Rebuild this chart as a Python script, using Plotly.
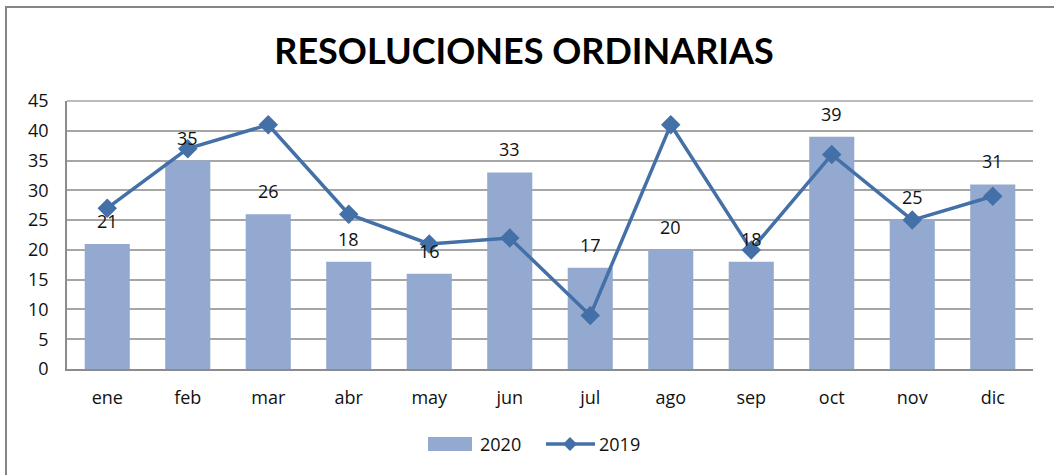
import plotly.graph_objects as go

months = ["ene", "feb", "mar", "abr", "may", "jun", "jul", "ago", "sep", "oct", "nov", "dic"]
v2020 = [21, 35, 26, 18, 16, 33, 17, 20, 18, 39, 25, 31]
v2019 = [27, 37, 41, 26, 21, 22, 9, 41, 20, 36, 25, 29]
y_ticks = [0, 5, 10, 15, 20, 25, 30, 35, 40, 45]

FONT = "Open Sans"
BAR = "#94A9D0"
LINE = "#4470A8"
TXT = "#111111"

fig = go.Figure()
fig.add_trace(go.Bar(x=months, y=v2020, name="2020", marker=dict(color=BAR, line=dict(width=0)),
                     width=0.56, showlegend=False))
fig.add_trace(go.Scatter(x=months, y=v2019, name="2019", mode="lines+markers",
                         line=dict(color=LINE, width=3.5),
                         marker=dict(symbol="diamond", size=15, color=LINE), showlegend=False))

for m, v in zip(months, v2020):
    fig.add_annotation(x=m, y=v, text=str(v), showarrow=False, yanchor="bottom", yshift=9,
                       font=dict(family=FONT, size=18, color=TXT))

W, H = 1054, 475
L, R, T, B = 67, 21, 101, 106
pw, ph = W - L - R, H - T - B
def px(x): return (x - L) / pw
def py(y): return (H - B - y) / ph

# chart border
fig.add_shape(type="rect", xref="paper", yref="paper",
              x0=px(6), x1=px(1070), y0=py(7), y1=py(490),
              line=dict(color="#858585", width=2), fillcolor="rgba(0,0,0,0)", layer="below")

# custom legend (Excel style)
ly = 444
fig.add_shape(type="rect", xref="paper", yref="paper", x0=px(428), x1=px(472), y0=py(451), y1=py(437),
              fillcolor=BAR, line=dict(width=0))
fig.add_annotation(xref="paper", yref="paper", x=px(478), y=py(ly), text="2020", showarrow=False,
                   xanchor="left", yanchor="middle", font=dict(family=FONT, size=18, color=TXT))
fig.add_shape(type="line", xref="paper", yref="paper", x0=px(546), x1=px(595), y0=py(ly), y1=py(ly),
              line=dict(color=LINE, width=3.5))
fig.add_shape(type="path", xref="paper", yref="paper",
              path=f"M {px(570)} {py(ly-7)} L {px(577)} {py(ly)} L {px(570)} {py(ly+7)} L {px(563)} {py(ly)} Z",
              fillcolor=LINE, line=dict(width=0))
fig.add_annotation(xref="paper", yref="paper", x=px(597), y=py(ly), text="2019", showarrow=False,
                   xanchor="left", yanchor="middle", font=dict(family=FONT, size=18, color=TXT))

fig.add_shape(type="line", xref="paper", yref="paper", x0=0, x1=1, y0=1, y1=1,
              line=dict(color="#a6a6a6", width=1.5))

fig.update_layout(
    width=W, height=H,
    margin=dict(l=L, r=R, t=T, b=B, autoexpand=False),
    paper_bgcolor="white", plot_bgcolor="white",
    title=dict(text="<b>RESOLUCIONES ORDINARIAS</b>", x=524 / W, xanchor="center", xref="container",
               y=1 - 51 / H, yanchor="middle", yref="container",
               font=dict(family="Lato", size=36, color="black")),
    font=dict(family=FONT, size=17, color=TXT),
    showlegend=False,
    bargap=0.44,
    xaxis=dict(range=[-0.5, 11.5], showline=True, linecolor="#8c8c8c", linewidth=1.5,
               ticks="outside", ticklen=12, tickcolor="rgba(0,0,0,0)", showgrid=False,
               tickfont=dict(size=18), automargin=False),
    yaxis=dict(range=[0, 45], tickvals=y_ticks, showgrid=True, gridcolor="#a6a6a6", gridwidth=1.5,
               showline=True, linecolor="#8c8c8c", linewidth=1.5,
               ticks="outside", ticklen=13, tickcolor="rgba(0,0,0,0)", zeroline=False,
               tickfont=dict(size=18), automargin=False),
)

fig.write_html("out.html", config={"displayModeBar": False},
               post_script="document.body.style.margin='0';")
